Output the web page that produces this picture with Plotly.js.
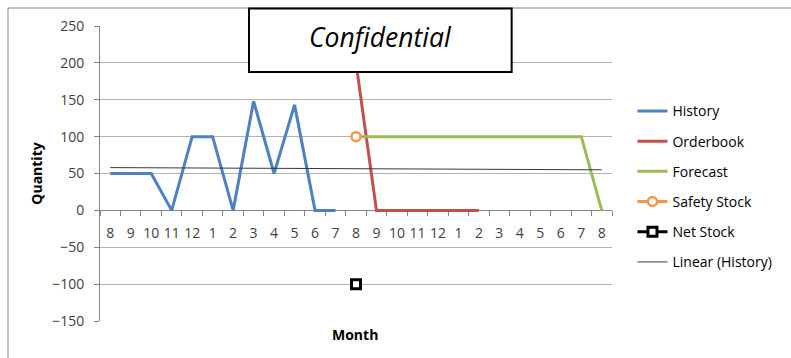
<!DOCTYPE html>
<html>
<head>
<meta charset="utf-8">
<script src="https://cdn.plot.ly/plotly-3.0.1.min.js"></script>
<style>
  html, body { margin: 0; padding: 0; background: #ffffff; }
  #chart { width: 791px; height: 358px; }
</style>
</head>
<body>
<div id="chart"></div>
<script>
// Category labels (months)
const months = ['8','9','10','11','12','1','2','3','4','5','6','7','8','9','10','11','12','1','2','3','4','5','6','7','8'];

// Series values (null = no value for that month)
const history   = [50, 50, 50, 0, 100, 100, 0, 148, 50, 143, 0, 0, null, null, null, null, null, null, null, null, null, null, null, null, null];
const orderbook = [null, null, null, null, null, null, null, null, null, null, null, null, 200, 0, 0, 0, 0, 0, 0, null, null, null, null, null, null];
const forecast  = [null, null, null, null, null, null, null, null, null, null, null, null, 100, 100, 100, 100, 100, 100, 100, 100, 100, 100, 100, 100, 0];
const safety    = [null, null, null, null, null, null, null, null, null, null, null, null, 100, null, null, null, null, null, null, null, null, null, null, null, null];
const netStock  = [null, null, null, null, null, null, null, null, null, null, null, null, -100, null, null, null, null, null, null, null, null, null, null, null, null];
const linearHistory = [58, null, null, null, null, null, null, null, null, null, null, null, null, null, null, null, null, null, null, null, null, null, null, null, 55];

const seriesNames = ['History', 'Orderbook', 'Forecast', 'Safety Stock', 'Net Stock', 'Linear (History)'];

const xPos = months.map((m, i) => i);
const FONT = 'Open Sans, Liberation Sans, sans-serif';

const traces = [
  { x: xPos, y: history, name: seriesNames[0], mode: 'lines', legendgroup: 'g1',
    line: { color: '#4F81BD', width: 3 } },
  { x: xPos, y: orderbook, name: seriesNames[1], mode: 'lines', legendgroup: 'g2',
    line: { color: '#C0504D', width: 3 } },
  { x: xPos, y: forecast, name: seriesNames[2], mode: 'lines', legendgroup: 'g3',
    line: { color: '#9BBB59', width: 3 } },
  { x: xPos, y: safety, name: seriesNames[3], mode: 'lines+markers', legendgroup: 'g4',
    line: { color: '#F79646', width: 3 },
    marker: { symbol: 'circle', size: 9, color: '#ffffff', line: { color: '#F79646', width: 2.5 } } },
  { x: xPos, y: netStock, name: seriesNames[4], mode: 'lines+markers', legendgroup: 'g5',
    line: { color: '#000000', width: 3 },
    marker: { symbol: 'square', size: 9, color: '#ffffff', line: { color: '#000000', width: 3 } } },
  { x: xPos, y: linearHistory, name: seriesNames[5], mode: 'lines', legendgroup: 'g6', connectgaps: true,
    line: { color: '#3a3a3a', width: 1 } }
];

const layout = {
  width: 791, height: 358,
  margin: { l: 100, r: 179, t: 26, b: 37 },
  paper_bgcolor: '#ffffff', plot_bgcolor: '#ffffff',
  font: { family: FONT, size: 14, color: '#404040' },
  showlegend: true,
  legend: {
    x: 1.04, xanchor: 'left', y: 0.765, yanchor: 'top',
    font: { family: FONT, size: 14, color: '#000000' },
    tracegroupgap: 9, itemwidth: 30, bgcolor: 'rgba(0,0,0,0)'
  },
  xaxis: {
    range: [-0.5, 24.5],
    tickmode: 'array', tickvals: xPos, ticktext: months,
    ticks: 'outside', ticklen: 10, tickcolor: 'rgba(0,0,0,0)',
    minor: { tickmode: 'linear', tick0: -0.5, dtick: 1, ticks: 'outside', ticklen: 5, tickcolor: '#868686', tickwidth: 1, showgrid: false },
    showgrid: false, zeroline: false,
    showline: true, linecolor: '#868686', linewidth: 1,
    layer: 'below traces',
    anchor: 'free', position: 0.375,
    tickfont: { family: FONT, size: 14, color: '#404040' },
    fixedrange: true
  },
  yaxis: {
    range: [-150, 250], dtick: 50, tick0: 0,
    showgrid: true, gridcolor: '#b3b3b3', gridwidth: 1,
    zeroline: false,
    showline: true, linecolor: '#868686', linewidth: 1,
    layer: 'below traces',
    ticks: 'outside', ticklen: 5, tickcolor: '#868686',
    ticklabelstandoff: 7,
    tickfont: { family: FONT, size: 14, color: '#404040' },
    title: { text: 'Quantity', font: { family: FONT, size: 14, color: '#000000', weight: 'bold' }, standoff: 6 },
    fixedrange: true
  },
  shapes: [
    // outer chart border
    { type: 'rect', xref: 'paper', yref: 'paper', x0: -0.1797, x1: 1.45, y0: -0.25, y1: 1.061,
      line: { color: '#868686', width: 1 }, fillcolor: 'rgba(0,0,0,0)', layer: 'below' },
    // Confidential box
    { type: 'rect', xref: 'paper', yref: 'paper', x0: 0.291, x1: 0.804, y0: 0.844, y1: 1.059,
      line: { color: '#000000', width: 2 }, fillcolor: '#ffffff', layer: 'above' }
  ],
  annotations: [
    { text: 'Confidential', xref: 'paper', yref: 'paper', x: 0.547, y: 0.962,
      xanchor: 'center', yanchor: 'middle', showarrow: false,
      font: { family: FONT, size: 26.5, color: '#000000', style: 'italic' } },
    { text: '<b>Month</b>', xref: 'paper', yref: 'paper', x: 0.498, y: -0.045,
      xanchor: 'center', yanchor: 'middle', showarrow: false,
      font: { family: FONT, size: 14, color: '#000000' } }
  ]
};

Plotly.newPlot('chart', traces, layout, { displayModeBar: false, staticPlot: true });
</script>
</body>
</html>
